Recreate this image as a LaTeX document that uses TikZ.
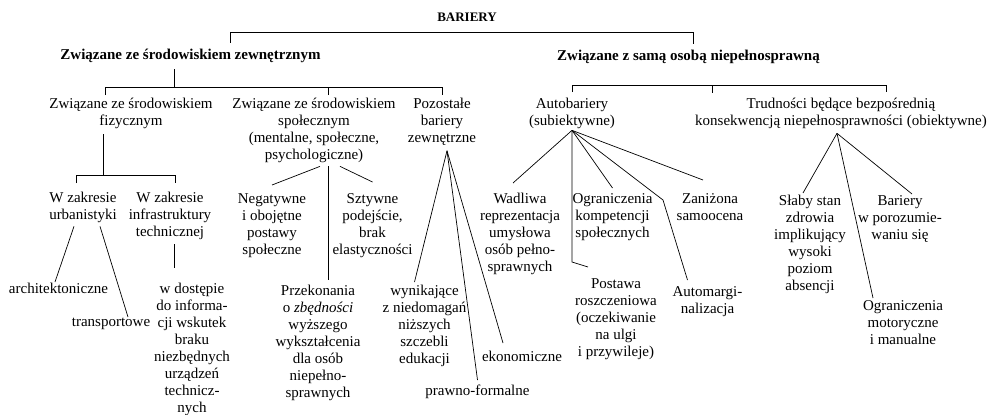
\documentclass[tikz,border=0pt]{standalone}
\usepackage{fontspec}
\setmainfont{Liberation Serif}
\begin{document}
\begin{tikzpicture}[
  x=1pt, y=-1pt,
  line width=0.7pt,
  plain_text/.style={align=center, anchor=north, inner sep=0pt, font=\fontsize{15}{17}\selectfont},
  head_text/.style={align=center, anchor=base, inner sep=0pt, font=\fontsize{15}{17}\selectfont\bfseries},
]
\useasboundingbox (0,0) rectangle (994,415);
\draw (467,21.5) node (bariery) [head_text, font=\fontsize{13}{15}\selectfont\bfseries] {BARIERY};
\draw (190.5,59) node (ext) [head_text] {Związane ze środowiskiem zewnętrznym};
\draw (688.5,60) node (own) [head_text] {Związane z samą osobą niepełnosprawną};
\draw (131,98) node (phys) [plain_text] {Związane ze środowiskiem\\fizycznym};
\draw (314,98) node (soc) [plain_text] {Związane ze środowiskiem\\społecznym\\(mentalne, społeczne,\\psychologiczne)};
\draw (442,98) node (other) [plain_text] {Pozostałe\\bariery\\zewnętrzne};
\draw (572,98) node (auto) [plain_text] {Autobariery\\(subiektywne)};
\draw (841,98) node (trud) [plain_text] {Trudności będące bezpośrednią\\konsekwencją niepełnosprawności (obiektywne)};
\draw (83,192) node (urb) [plain_text] {W zakresie\\urbanistyki};
\draw (170,192) node (tech) [plain_text] {W zakresie\\infrastruktury\\technicznej};
\draw (58.5,283) node (arch) [plain_text] {architektoniczne};
\draw (111,318) node (transp) [plain_text] {transportowe};
\draw (192,283) node (dost) [plain_text] {w dostępie\\do informa-\\cji wskutek\\braku\\niezbędnych\\urządzeń\\technicz-\\nych};
\draw (272,193) node (neg) [plain_text] {Negatywne\\i obojętne\\postawy\\społeczne};
\draw (372.5,193) node (szt) [plain_text] {Sztywne\\podejście,\\brak\\elastyczności};
\draw (318,285) node (prz) [plain_text] {Przekonania\\o \emph{zbędności}\\wyższego\\wykształcenia\\dla osób\\niepełno-\\sprawnych};
\draw (424.5,285) node (wyn) [plain_text] {wynikające\\z niedomagań\\niższych\\szczebli\\edukacji};
\draw (477.5,385) node (praw) [plain_text] {prawno-formalne};
\draw (522,351) node (eko) [plain_text] {ekonomiczne};
\draw (520,193) node (wad) [plain_text] {Wadliwa\\reprezentacja\\umysłowa\\osób pełno-\\sprawnych};
\draw (612.5,193) node (ogr) [plain_text] {Ograniczenia\\kompetencji\\społecznych};
\draw (710,193) node (zan) [plain_text] {Zaniżona\\samoocena};
\draw (616,278) node (post) [plain_text] {Postawa\\roszczeniowa\\(oczekiwanie\\na ulgi\\i przywileje)};
\draw (707.5,286) node (am) [plain_text] {Automargi-\\nalizacja};
\draw (810,195) node (slaby) [plain_text] {Słaby stan\\zdrowia\\implikujący\\wysoki\\poziom\\absencji};
\draw (900,195) node (barp) [plain_text] {Bariery\\w porozumie-\\waniu się};
\draw (903,300) node (ogrm) [plain_text] {Ograniczenia\\motoryczne\\i manualne};
\draw ([xshift=39.5pt,yshift=5.5pt]ext.north) |- ([yshift=-10.5pt]bariery.south) -| ([xshift=4.5pt,yshift=5.5pt]own.north);
\coordinate (ext_bar) at ([xshift=-16.5pt,yshift=-25pt]ext.south);
\draw ([xshift=-16.5pt,yshift=-6.5pt]ext.south) -- (ext_bar);
\draw ([xshift=-26pt,yshift=3pt]phys.north) |- (ext_bar) -| ([yshift=3pt]other.north);
\draw ([xshift=14pt,yshift=3pt]soc.north) |- (ext_bar);
\coordinate (own_bar) at ([yshift=13pt]auto.north);
\draw ([yshift=6pt]auto.north) |- (own_bar) -| ([xshift=45pt,yshift=6pt]trud.north);
\draw ([xshift=140pt]own_bar) -- ++(0,-8pt);
\coordinate (phys_bar) at ([xshift=-28pt,yshift=-46pt]phys.south);
\draw ([xshift=-28pt,yshift=-5pt]phys.south) -- (phys_bar);
\draw ([xshift=-7pt,yshift=9pt]urb.north) |- (phys_bar) -| ([xshift=5pt,yshift=9pt]tech.north);
\draw ([xshift=-9pt,yshift=-3pt]urb.south) -- ([xshift=-3.5pt,yshift=1pt]arch.north);
\draw ([xshift=17pt,yshift=-3pt]urb.south) -- ([xshift=17pt,yshift=1pt]transp.north);
\draw ([xshift=4pt,yshift=-4pt]tech.south) -- ([xshift=-18pt,yshift=15pt]dost.north);
\draw ([xshift=6pt,yshift=-3pt]soc.south) -- ([yshift=8pt]neg.north);
\draw ([xshift=14pt,yshift=-3pt]soc.south) -- ([xshift=10pt,yshift=5pt]prz.north);
\draw ([xshift=26pt,yshift=-3pt]soc.south) -- ([yshift=11pt]szt.north);
\coordinate (other_apex) at ([xshift=5pt,yshift=-4.7pt]other.south);
\draw (other_apex) -- ([xshift=-10pt,yshift=3pt]wyn.north);
\draw (other_apex) -- ([yshift=5pt]praw.north);
\draw (other_apex) -- ([xshift=-19pt,yshift=8pt]eko.north);
\coordinate (auto_apex) at ([yshift=-1pt]auto.south);
\draw (auto_apex) -- ([xshift=-7pt,yshift=10pt]wad.north);
\draw (auto_apex) -- ([xshift=-44pt,yshift=16pt]post.north) -- ([xshift=-28pt,yshift=11pt]post.north);
\draw (auto_apex) -- ([yshift=5pt]ogr.north);
\draw (auto_apex) -- ([xshift=-44.5pt,yshift=86pt]am.north) -- ([xshift=-20pt,yshift=6pt]am.north);
\draw (auto_apex) -- ([xshift=-7pt,yshift=13pt]zan.north);
\coordinate (trud_apex) at ([xshift=-4pt,yshift=-4pt]trud.south);
\draw (trud_apex) -- ([xshift=-7pt,yshift=2pt]slaby.north);
\draw (trud_apex) -- ([xshift=-30pt,yshift=2pt]ogrm.north);
\draw (trud_apex) -- ([xshift=12pt,yshift=1pt]barp.north);
\end{tikzpicture}
\end{document}
